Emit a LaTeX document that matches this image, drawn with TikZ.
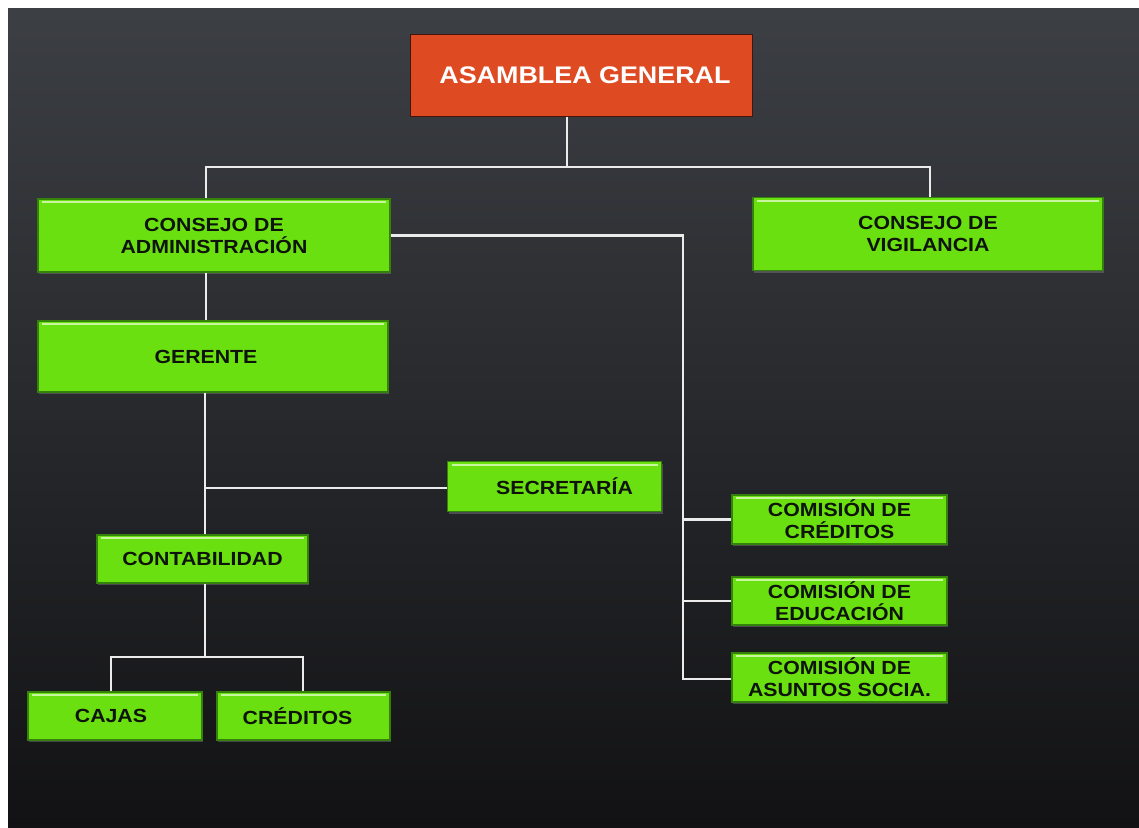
\documentclass[tikz,border=0pt]{standalone}
\usepackage{fontspec}
\newfontfamily\boxfont{Liberation Sans}[FakeStretch=1.12]
\usetikzlibrary{shadows}
\definecolor{bgtop}{RGB}{60,63,68}
\definecolor{bgbot}{RGB}{18,18,20}
\definecolor{gfill}{RGB}{106,224,16}
\definecolor{gedge}{RGB}{52,130,12}
\definecolor{ghl}{RGB}{200,245,160}
\definecolor{rfill}{RGB}{222,74,34}
\definecolor{redge}{RGB}{70,20,10}
\definecolor{wire}{RGB}{235,235,235}
\definecolor{ink}{RGB}{14,20,10}
\tikzset{
  gbox/.style={draw=gedge, line width=1.2pt, fill=gfill, inner sep=0pt,
    align=center, text=ink,
    font=\boxfont\bfseries\fontsize{19}{22}\selectfont,
    drop shadow={opacity=0.45, shadow xshift=1pt, shadow yshift=-2pt},
    path picture={\draw[ghl, line width=2pt]
      ([xshift=4pt,yshift=-3pt]path picture bounding box.north west) --
      ([xshift=-4pt,yshift=-3pt]path picture bounding box.north east);}},
  rbox/.style={draw=redge, line width=1pt, fill=rfill, inner sep=0pt,
    text=white, font=\boxfont\bfseries\fontsize{24}{28}\selectfont},
  wirestyle/.style={draw=wire, line width=2.8pt}
}
\begin{document}
\begin{tikzpicture}[x=1pt,y=-1pt]
\useasboundingbox (0,0) rectangle (1139,827);
\fill[white] (0,0) rectangle (1139,827);
\shade[top color=bgtop, bottom color=bgbot] (8,8) rectangle (1139,827);

% junctions
\coordinate (jA) at (567,167);
\coordinate (jL) at (206,167);
\coordinate (jR) at (930,167);
\coordinate (jG) at (205,488);
\coordinate (jC) at (205,657);
\coordinate (jCL) at (111,657);
\coordinate (jCR) at (303,657);
\coordinate (jV) at (683,679);

% nodes
\node[rbox, minimum width=342pt, minimum height=82pt] (ag) at (581,75) {\hspace*{8pt}ASAMBLEA GENERAL};
\node[gbox, minimum width=352pt, minimum height=73pt] (adm) at (214,235.5) {CONSEJO DE\\ADMINISTRACIÓN};
\node[gbox, minimum width=350pt, minimum height=73pt] (vig) at (928,234) {CONSEJO DE\\VIGILANCIA};
\node[gbox, minimum width=350pt, minimum height=71pt] (ger) at (213,356.5) {GERENTE\hspace*{14pt}};
\node[gbox, minimum width=214pt, minimum height=50pt] (sec) at (554.5,486.5) {\hspace*{20pt}SECRETARÍA};
\node[gbox, minimum width=211pt, minimum height=48pt] (con) at (202.5,559) {CONTABILIDAD};
\node[gbox, minimum width=174pt, minimum height=48pt] (caj) at (115,716) {CAJAS\hspace*{8pt}};
\node[gbox, minimum width=173pt, minimum height=48pt] (cre) at (303.5,716) {CRÉDITOS\hspace*{12pt}};
\node[gbox, minimum width=215pt, minimum height=49pt] (cc) at (839.5,519.5) {COMISIÓN DE\\CRÉDITOS};
\node[gbox, minimum width=215pt, minimum height=48pt] (ce) at (839.5,601) {COMISIÓN DE\\EDUCACIÓN};
\node[gbox, minimum width=215pt, minimum height=49pt] (cs) at (839.5,677.5) {COMISIÓN DE\\ASUNTOS SOCIA.};

% connectors
\draw[wirestyle] (ag.south -| jA) -- (jA);
\draw[wirestyle] (adm.north -| jL) -- (jL) -- (jR) -- (vig.north -| jR);
\draw[wirestyle] (adm.south -| jL) -- (ger.north -| jL);
\draw[wirestyle] (ger.south -| jG) -- (con.north -| jG);
\draw[wirestyle] (jG) -- (jG -| sec.west);
\draw[wirestyle] (con.south -| jC) -- (jC);
\draw[wirestyle] (caj.north -| jCL) -- (jCL) -- (jCR) -- (cre.north -| jCR);
\draw[wirestyle] (adm.east) -| (jV) -- (jV -| cs.west);
\draw[wirestyle] (cc.west -| jV) -- (cc.west);
\draw[wirestyle] (ce.west -| jV) -- (ce.west);
\end{tikzpicture}
\end{document}
